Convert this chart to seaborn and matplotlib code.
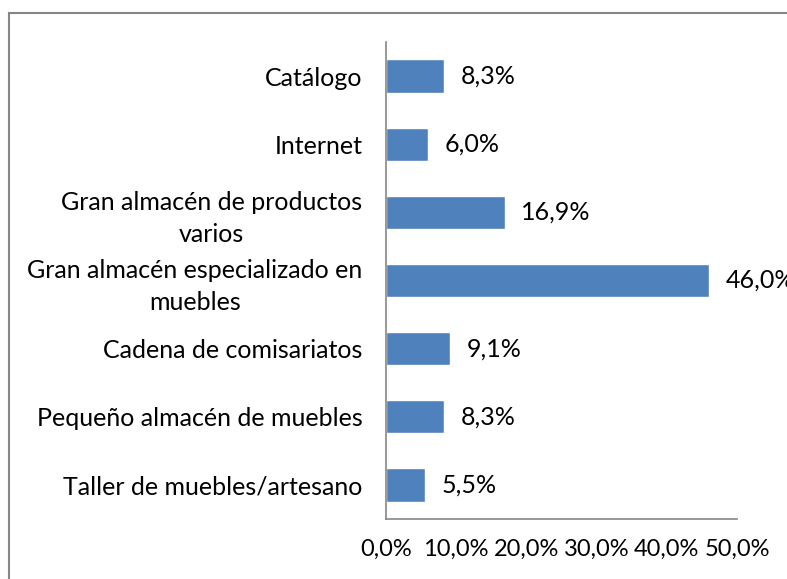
import matplotlib
matplotlib.use("Agg")
import matplotlib.pyplot as plt
import seaborn as sns
import pandas as pd
import numpy as np
from matplotlib.patches import Rectangle

categories = [
    "Catálogo",
    "Internet",
    "Gran almacén de productos\nvarios",
    "Gran almacén especializado en\nmuebles",
    "Cadena de comisariatos",
    "Pequeño almacén de muebles",
    "Taller de muebles/artesano",
]
values = [8.3, 6.0, 16.9, 46.0, 9.1, 8.3, 5.5]
x_ticks = [0, 10, 20, 30, 40, 50]
x_tick_labels = ["0,0%", "10,0%", "20,0%", "30,0%", "40,0%", "50,0%"]

sns.set_style("white")
plt.rcParams["font.family"] = ["Lato", "DejaVu Sans"]

df = pd.DataFrame({"cat": categories, "val": values})

fig = plt.figure(figsize=(7.87, 5.79), dpi=100)
ax = fig.add_axes([386 / 787, 1 - 519 / 579, (737 - 386) / 787, (519 - 42) / 579])

sns.barplot(data=df, y="cat", x="val", orient="h", color="#4F81BD",
            saturation=1, width=0.49, ax=ax)

ax.set_xlim(0, 50)
ax.set_ylim(6.5, -0.5)
ax.set_xlabel("")
ax.set_ylabel("")

fs = 18
ax.set_xticks(x_ticks)
ax.set_xticklabels(x_tick_labels, fontsize=17, color="black")
ax.set_yticks(range(len(categories)))
ax.set_yticklabels(categories, fontsize=fs, color="black")
for lbl in ax.get_yticklabels():
    lbl.set_multialignment("center")
    lbl.set_linespacing(1.45)

ax.tick_params(axis="y", which="major", length=0, pad=17)
ax.set_yticks(np.arange(-0.5, 7, 1), minor=True)
ax.tick_params(axis="y", which="minor", length=4.5, width=1.2, color="#868686", direction="out")
ax.tick_params(axis="x", which="major", length=4, width=1.2, color="#868686", direction="out", pad=10)

for s in ["top", "right"]:
    ax.spines[s].set_visible(False)
for s in ["left", "bottom"]:
    ax.spines[s].set_color("#868686")
    ax.spines[s].set_linewidth(1.2)

for container in ax.containers:
    ax.bar_label(container, labels=[f"{v:.1f}%".replace(".", ",") for v in values],
                 padding=12, fontsize=fs, color="black", clip_on=False)

fig.patches.append(Rectangle((9 / 787, -0.1), 1.2, 1 - 13 / 579 + 0.1,
                             transform=fig.transFigure, fill=False,
                             edgecolor="#868686", linewidth=1.5, zorder=0))

fig.savefig("out.png", dpi=100)
